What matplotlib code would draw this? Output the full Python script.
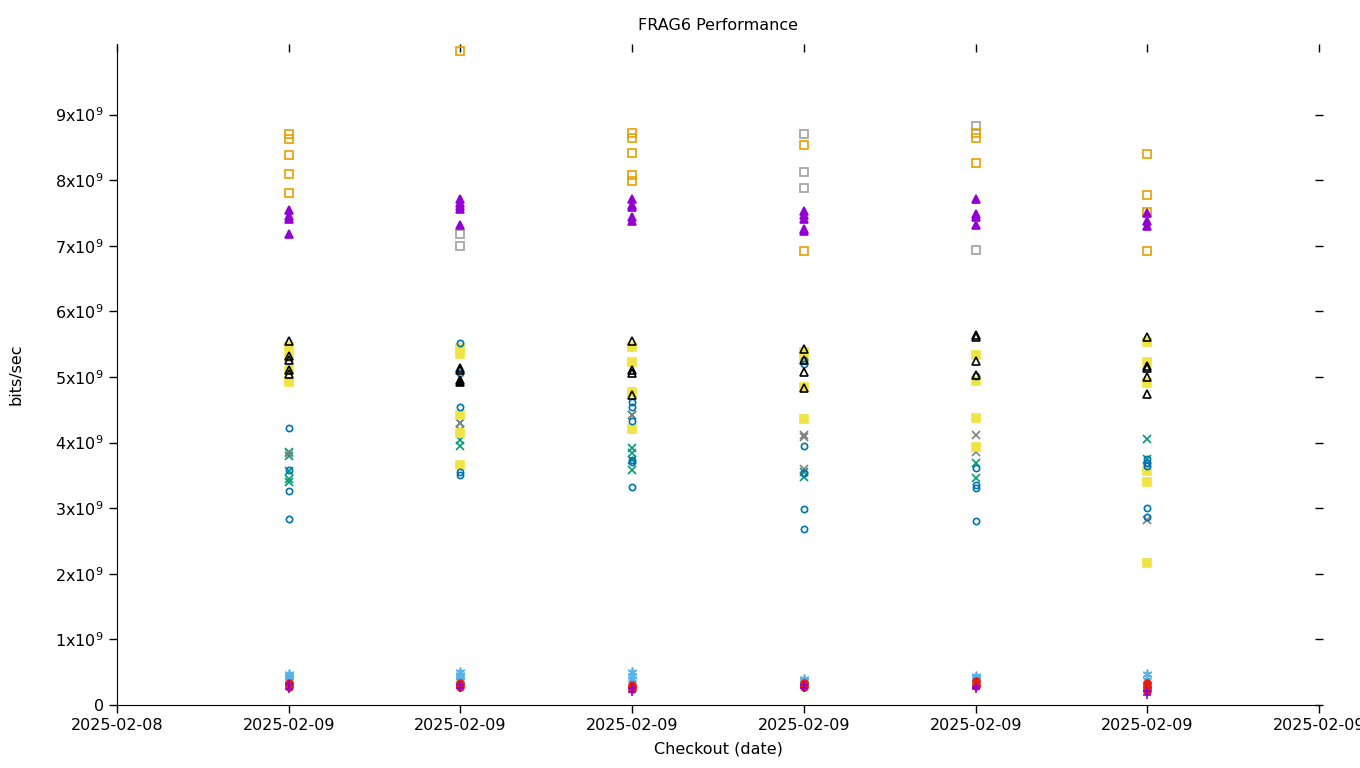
import matplotlib
matplotlib.use('Agg')
import matplotlib.pyplot as plt

# x tick labels (position 0..7), data sits on positions 1..6
date_labels = ['2025-02-08', '2025-02-09', '2025-02-09', '2025-02-09',
               '2025-02-09', '2025-02-09', '2025-02-09', '2025-02-09']

# values in units of 1e9 bits/sec, one list per checkout column
orange_sq = [[8.70, 8.63, 8.38, 8.09, 7.80], [9.97], [8.72, 8.64, 8.41, 8.08, 7.99],
             [8.54, 6.92], [8.72, 8.64, 8.26], [8.40, 7.77, 7.52, 6.92]]
gray_sq = [[], [7.18, 7.00], [], [8.70, 8.12, 7.88], [8.83, 6.94], []]
purple_tri = [[7.55, 7.45, 7.41, 7.18], [7.72, 7.66, 7.60, 7.56, 7.32],
              [7.72, 7.62, 7.59, 7.44, 7.38], [7.53, 7.47, 7.41, 7.26, 7.23],
              [7.71, 7.48, 7.44, 7.32], [7.50, 7.38, 7.30]]
black_tri = [[5.55, 5.32, 5.26, 5.11, 5.05], [5.13, 5.10], [5.55, 5.11, 5.06, 4.73],
             [5.43, 5.26, 5.08, 4.83], [5.64, 5.61, 5.24, 5.03], [5.61, 5.17, 5.14, 5.00, 4.74]]
black_tri_filled = [[], [4.95, 4.92], [], [], [], []]
yellow_sq = [[5.46, 5.30, 5.10, 4.93], [5.45, 5.35, 4.42, 4.14, 3.66],
             [5.46, 5.23, 4.77, 4.21], [5.38, 5.30, 4.85, 4.36],
             [5.33, 4.94, 4.37, 3.93], [5.53, 5.23, 4.91, 3.57, 3.40, 2.17]]
blue_circ = [[4.22, 3.58, 3.27, 2.84], [5.52, 5.06, 4.54, 3.55, 3.51],
             [4.62, 4.55, 4.33, 3.73, 3.70, 3.33], [5.26, 5.20, 3.95, 3.54, 2.99, 2.68],
             [5.02, 3.61, 3.35, 3.31, 2.80], [3.75, 3.69, 3.65, 3.00, 2.87]]
green_x = [[3.86, 3.80, 3.57, 3.45, 3.40], [4.30, 4.04, 3.95], [4.42, 3.92, 3.84, 3.73, 3.58],
           [3.55, 3.48], [3.69, 3.46], [4.06, 3.75]]
gray_x = [[3.84], [4.30, 4.20], [4.42], [4.12, 4.09, 3.60], [4.12, 3.86], [3.63, 2.82]]
lblue_star = [[0.48, 0.45, 0.42, 0.38], [0.51, 0.46, 0.42, 0.38], [0.50, 0.44, 0.40],
              [0.40, 0.37], [0.44, 0.41, 0.38], [0.48, 0.38, 0.30]]
red_circ = [[0.33, 0.30, 0.28], [0.33, 0.30, 0.28], [0.30, 0.27, 0.25],
            [0.34, 0.30, 0.27], [0.36, 0.31, 0.29], [0.33, 0.29, 0.25, 0.22]]
purple_plus = [[0.25, 0.32], [0.26, 0.30], [0.20, 0.26], [0.26, 0.30], [0.24, 0.28], [0.16, 0.22]]


def flat(series):
    xs, ys = [], []
    for i, col in enumerate(series):
        for v in col:
            xs.append(i + 1)
            ys.append(v * 1e9)
    return xs, ys


fig = plt.figure(figsize=(13.6, 7.68), dpi=100)
ax = fig.add_axes([0.086, 0.082, 0.884, 0.861])

asterisk = (6, 2, 0)
styles = [
    (gray_sq, 's', 'none', '#a0a0a0', 5.5),
    (orange_sq, 's', 'none', '#e69f00', 5.5),
    (purple_tri, '^', '#9400d3', '#9400d3', 6),
    (green_x, 'x', '#009e73', '#009e73', 6),
    (gray_x, 'x', '#808080', '#808080', 6),
    (yellow_sq, 's', '#f0e442', '#f0e442', 5.5),
    (blue_circ, 'o', 'none', '#0072b2', 4.5),
    (black_tri, '^', 'none', 'black', 6),
    (black_tri_filled, '^', 'black', 'black', 6),
    (lblue_star, asterisk, '#56b4e9', '#56b4e9', 7),
    (red_circ, 'o', '#e51e10', '#e51e10', 5),
    (purple_plus, '+', '#9400d3', '#9400d3', 6),
]
for series, mk, fc, ec, ms in styles:
    xs, ys = flat(series)
    ax.plot(xs, ys, linestyle='none', marker=mk, markerfacecolor=fc,
            markeredgecolor=ec, markersize=ms, markeredgewidth=1.2, clip_on=False)

ax.set_xlim(0, 7)
ax.set_ylim(0, 10.08e9)
ax.set_xticks(range(8))
ax.set_xticklabels(date_labels)
yt = [i * 1e9 for i in range(10)]
ax.set_yticks(yt)
ax.set_yticklabels(['0'] + [r'%dx10$^{9}$' % i for i in range(1, 10)])

ax.spines['top'].set_visible(False)
ax.spines['right'].set_visible(False)
ax.tick_params(axis='both', direction='out', length=6, width=1, labelsize=11.5)

# mirrored tics: inward on top, across the edge on the right
top = ax.secondary_xaxis('top')
top.set_xticks(range(8))
top.tick_params(direction='in', length=6, width=1, labeltop=False)
top.spines['top'].set_visible(False)
right = ax.secondary_yaxis('right')
right.set_yticks(yt)
right.tick_params(direction='inout', length=6, width=1, labelright=False)
right.spines['right'].set_visible(False)

ax.set_title('FRAG6 Performance', fontsize=11.5, pad=10)
ax.set_xlabel('Checkout (date)', fontsize=11.5, labelpad=6)
ax.set_ylabel('bits/sec', fontsize=11.5, labelpad=23)

fig.savefig('out.png', dpi=100)
